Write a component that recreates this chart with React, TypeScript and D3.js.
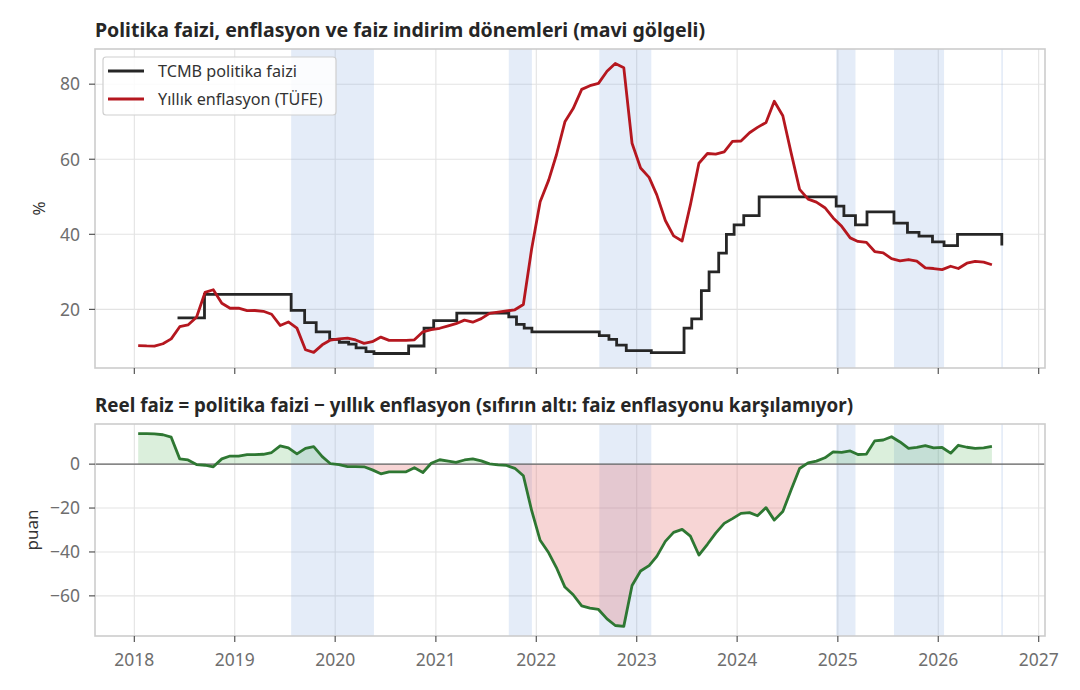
import React from 'react';
import * as d3 from 'd3';

// ---- Data ----
const firstMonth = '2018-01';
const inflation = [
  10.35, 10.26, 10.23, 10.85, 12.15, 15.39, 15.85, 17.9, 24.52, 25.24, 21.62, 20.3,
  20.35, 19.67, 19.71, 19.5, 18.71, 15.72, 16.65, 15.01, 9.26, 8.55, 10.56, 11.84,
  12.15, 12.37, 11.86, 10.94, 11.39, 12.62, 11.76, 11.77, 11.75, 11.89, 14.03, 14.6,
  14.97, 15.61, 16.19, 17.14, 16.59, 17.53, 18.95, 19.25, 19.58, 19.89, 21.31, 36.08,
  48.69, 54.44, 61.14, 69.97, 73.5, 78.62, 79.6, 80.21, 83.45, 85.51, 84.39, 64.27,
  57.68, 55.18, 50.51, 43.68, 39.59, 38.21, 47.83, 58.94, 61.53, 61.36, 61.98, 64.77,
  64.86, 67.07, 68.5, 69.8, 75.45, 71.6, 61.78, 51.97, 49.38, 48.58, 47.09, 44.38,
  42.12, 39.05, 38.1, 37.86, 35.41, 35.05, 33.52, 32.95, 33.29, 32.87, 31.07, 30.89,
  30.6, 31.5, 30.9, 32.3, 32.8, 32.6, 31.9,
];
const realRate = [
  13.9, 13.9, 13.8, 13.4, 12.3, 2.4, 1.9, -0.2, -0.5, -1.2, 2.4, 3.7,
  3.7, 4.3, 4.3, 4.5, 5.3, 8.3, 7.4, 4.7, 7.2, 8.0, 3.4, 0.2,
  -0.2, -1.1, -1.1, -1.2, -2.6, -4.4, -3.5, -3.5, -3.5, -1.6, -3.8, 0.4,
  2.0, 1.4, 0.8, 1.9, 2.4, 1.5, 0.1, -0.3, -0.6, -1.9, -5.3, -21.1,
  -34.7, -40.4, -47.1, -56.0, -59.5, -64.6, -65.6, -66.2, -70.5, -73.5, -73.9, -55.3,
  -48.7, -46.2, -42.0, -35.2, -31.1, -29.7, -32.8, -41.4, -36.5, -31.4, -27.0, -24.8,
  -22.4, -22.1, -23.5, -19.8, -25.5, -21.6, -11.8, -2.0, 0.6, 1.4, 2.9, 5.6,
  5.4, 6.0, 4.4, 4.6, 10.6, 11.0, 12.5, 10.1, 7.2, 7.6, 8.4, 7.4,
  7.6, 5.0, 8.6, 7.7, 7.2, 7.4, 8.1,
];
const policyDates = [
  '2018-06-07', '2018-09-13', '2019-07-25', '2019-09-12', '2019-10-24', '2019-12-12',
  '2020-01-16', '2020-02-19', '2020-03-17', '2020-04-22', '2020-05-21', '2020-09-24',
  '2020-11-19', '2020-12-24', '2021-03-18', '2021-09-23', '2021-10-21', '2021-11-18',
  '2021-12-16', '2022-08-18', '2022-09-22', '2022-10-20', '2022-11-24', '2023-02-23',
  '2023-06-22', '2023-07-20', '2023-08-24', '2023-09-21', '2023-10-26', '2023-11-23',
  '2023-12-21', '2024-01-25', '2024-03-21', '2024-12-26', '2025-01-23', '2025-03-06',
  '2025-04-17', '2025-07-24', '2025-09-11', '2025-10-23', '2025-12-11', '2026-01-22',
  '2026-03-12', '2026-08-20',
];
const policyRates = [
  17.75, 24, 19.75, 16.5, 14, 12,
  11.25, 10.75, 9.75, 8.75, 8.25, 10.25,
  15, 17, 19, 18, 16, 15,
  14, 13, 12, 10.5, 9, 8.5,
  15, 17.5, 25, 30, 35, 40,
  42.5, 45, 50, 47.5, 45, 42.5,
  46, 43, 40.5, 39.5, 38, 37,
  40, 37,
];
const cutStarts = ['2019-07-25', '2021-09-23', '2022-08-18', '2024-12-26', '2025-07-24', '2026-08-18'];
const cutEnds = ['2020-05-21', '2021-12-16', '2023-02-23', '2025-03-06', '2026-01-22', '2026-08-24'];
const yearTicks = [2018, 2019, 2020, 2021, 2022, 2023, 2024, 2025, 2026, 2027];
const topTicks = [20, 40, 60, 80];
const bottomTicks = [-60, -40, -20, 0];

const titleTop = 'Politika faizi, enflasyon ve faiz indirim dönemleri (mavi gölgeli)';
const titleBottom = 'Reel faiz = politika faizi − yıllık enflasyon (sıfırın altı: faiz enflasyonu karşılamıyor)';
const legendLabels = ['TCMB politika faizi', 'Yıllık enflasyon (TÜFE)'];

// ---- Styling ----
const W = 1080, H = 690;
const FONT = "'Noto Sans', 'Open Sans', sans-serif";
const C_POLICY = '#262626';
const C_INFL = '#b5171f';
const C_REAL = '#2e7732';
const C_SPAN = 'rgba(120,160,220,0.2)';
const C_GRID = '#e3e3e3';
const C_FRAME = '#cccccc';
const C_TICK = '#6e6e6e';

const parse = d3.timeParse('%Y-%m-%d');
const monthDates = inflation.map((_, i) => {
  const base = d3.timeParse('%Y-%m')(firstMonth)!;
  const m = d3.timeMonth.offset(base, i);
  return d3.timeDay.offset(m, 14);
});
const policyPts = policyDates.map((d, i) => ({ date: parse(d)!, v: policyRates[i] }));

const L = 95, R = 1045;
const top1 = 49, bot1 = 368;
const top2 = 424, bot2 = 636;

const allDates = [...monthDates, ...policyPts.map((p) => p.date)];
const [dMin, dMax] = d3.extent(allDates) as [Date, Date];
const span = +dMax - +dMin;
const x = d3.scaleTime()
  .domain([new Date(+dMin - span * 0.05), new Date(+dMax + span * 0.05)])
  .range([L, R]);

const topVals = [...inflation, ...policyRates];
const tMin = d3.min(topVals)!, tMax = d3.max(topVals)!;
const y1 = d3.scaleLinear()
  .domain([tMin - (tMax - tMin) * 0.05, tMax + (tMax - tMin) * 0.05])
  .range([bot1, top1]);
const bMin = d3.min(realRate)!, bMax = d3.max(realRate)!;
const y2 = d3.scaleLinear()
  .domain([bMin - (bMax - bMin) * 0.05, bMax + (bMax - bMin) * 0.05])
  .range([bot2, top2]);

const yearDate = (y: number) => new Date(y, 0, 1);

function Spans({ top, bottom }: { top: number; bottom: number }) {
  return (
    <g>
      {cutStarts.map((s, i) => {
        const x0 = x(parse(s)!), x1 = x(parse(cutEnds[i])!);
        return <rect key={i} x={x0} y={top} width={Math.max(x1 - x0, 1.5)} height={bottom - top} fill={C_SPAN} />;
      })}
    </g>
  );
}

function Grid({ top, bottom, ticks, y }: { top: number; bottom: number; ticks: number[]; y: d3.ScaleLinear<number, number> }) {
  return (
    <g>
      {yearTicks.map((t) => (
        <line key={'x' + t} x1={x(yearDate(t))} x2={x(yearDate(t))} y1={top} y2={bottom} stroke={C_GRID} strokeWidth={1.1} />
      ))}
      {ticks.map((t) => (
        <line key={'y' + t} x1={L} x2={R} y1={y(t)} y2={y(t)} stroke={C_GRID} strokeWidth={1.1} />
      ))}
    </g>
  );
}

function Axes({ top, bottom, ticks, y, labels }: { top: number; bottom: number; ticks: number[]; y: d3.ScaleLinear<number, number>; labels: boolean }) {
  return (
    <g>
      <rect x={L} y={top} width={R - L} height={bottom - top} fill="none" stroke={C_FRAME} strokeWidth={1.6} />
      {ticks.map((t) => (
        <g key={t}>
          <line x1={L - 6} x2={L} y1={y(t)} y2={y(t)} stroke="#555" strokeWidth={1.2} />
          <text x={L - 15} y={y(t)} dy="0.36em" textAnchor="end" fontSize={17.5} fill={C_TICK} fontFamily={FONT}>
            {t < 0 ? '−' + Math.abs(t) : String(t)}
          </text>
        </g>
      ))}
      {yearTicks.map((t) => (
        <g key={t}>
          <line x1={x(yearDate(t))} x2={x(yearDate(t))} y1={bottom} y2={bottom + 6} stroke="#555" strokeWidth={1.2} />
          {labels && (
            <text x={x(yearDate(t))} y={bottom + 30} textAnchor="middle" fontSize={17.5} fill={C_TICK} fontFamily={FONT}>
              {t}
            </text>
          )}
        </g>
      ))}
    </g>
  );
}

export default function App() {
  const inflLine = d3.line<number>()
    .x((_, i) => x(monthDates[i]))
    .y((d) => y1(d))(inflation)!;
  const policyLine = d3.line<{ date: Date; v: number }>()
    .x((d) => x(d.date))
    .y((d) => y1(d.v))
    .curve(d3.curveStepAfter)(policyPts)!;
  const realLine = d3.line<number>()
    .x((_, i) => x(monthDates[i]))
    .y((d) => y2(d))(realRate)!;
  const realArea = d3.area<number>()
    .x((_, i) => x(monthDates[i]))
    .y0(() => y2(0))
    .y1((d) => y2(d))(realRate)!;
  const zeroY = y2(0);

  return (
    <div style={{ position: 'absolute', left: 0, top: 0 }}>
      <svg width={W} height={H} viewBox={`0 0 ${W} ${H}`} style={{ display: 'block', background: '#fff' }}>
        <defs>
          <clipPath id="posClip"><rect x={L} y={top2} width={R - L} height={zeroY - top2} /></clipPath>
          <clipPath id="negClip"><rect x={L} y={zeroY} width={R - L} height={bot2 - zeroY} /></clipPath>
          <clipPath id="topClip"><rect x={L} y={top1} width={R - L} height={bot1 - top1} /></clipPath>
          <clipPath id="botClip"><rect x={L} y={top2} width={R - L} height={bot2 - top2} /></clipPath>
        </defs>

        {/* Top panel */}
        <text x={L} y={37} fontSize={19} fontWeight={700} fill="#262626" fontFamily={FONT} textLength={610} lengthAdjust="spacingAndGlyphs">{titleTop}</text>
        <Grid top={top1} bottom={bot1} ticks={topTicks} y={y1} />
        <Spans top={top1} bottom={bot1} />
        <g clipPath="url(#topClip)">
          <path d={policyLine} fill="none" stroke={C_POLICY} strokeWidth={2.8} />
          <path d={inflLine} fill="none" stroke={C_INFL} strokeWidth={2.8} strokeLinejoin="round" />
        </g>
        <Axes top={top1} bottom={bot1} ticks={topTicks} y={y1} labels={false} />
        <text transform={`translate(45,${(top1 + bot1) / 2}) rotate(-90)`} textAnchor="middle" fontSize={17} fill="#333" fontFamily={FONT}>%</text>

        {/* Legend */}
        <g>
          <rect x={103} y={57} width={233} height={58} rx={3} fill="#fff" fillOpacity={0.85} stroke="#cfcfcf" strokeWidth={1.2} />
          <line x1={108} x2={144} y1={71} y2={71} stroke={C_POLICY} strokeWidth={2.8} />
          <text x={158} y={71} dy="0.35em" fontSize={16.2} fill="#333" fontFamily={FONT}>{legendLabels[0]}</text>
          <line x1={108} x2={144} y1={99} y2={99} stroke={C_INFL} strokeWidth={2.8} />
          <text x={158} y={99} dy="0.35em" fontSize={16.2} fill="#333" fontFamily={FONT}>{legendLabels[1]}</text>
        </g>

        {/* Bottom panel */}
        <text x={L} y={412} fontSize={19} fontWeight={700} fill="#262626" fontFamily={FONT} textLength={758} lengthAdjust="spacingAndGlyphs">{titleBottom}</text>
        <Grid top={top2} bottom={bot2} ticks={bottomTicks} y={y2} />
        <Spans top={top2} bottom={bot2} />
        <g clipPath="url(#botClip)">
          <path d={realArea} fill="#4caf50" fillOpacity={0.2} clipPath="url(#posClip)" />
          <path d={realArea} fill="#e57373" fillOpacity={0.3} clipPath="url(#negClip)" />
          <line x1={L} x2={R} y1={zeroY} y2={zeroY} stroke="#666" strokeWidth={1.4} />
          <path d={realLine} fill="none" stroke={C_REAL} strokeWidth={2.8} strokeLinejoin="round" />
        </g>
        <Axes top={top2} bottom={bot2} ticks={bottomTicks} y={y2} labels={true} />
        <text transform={`translate(38,${(top2 + bot2) / 2}) rotate(-90)`} textAnchor="middle" fontSize={17} fill="#333" fontFamily={FONT}>puan</text>
      </svg>
    </div>
  );
}
